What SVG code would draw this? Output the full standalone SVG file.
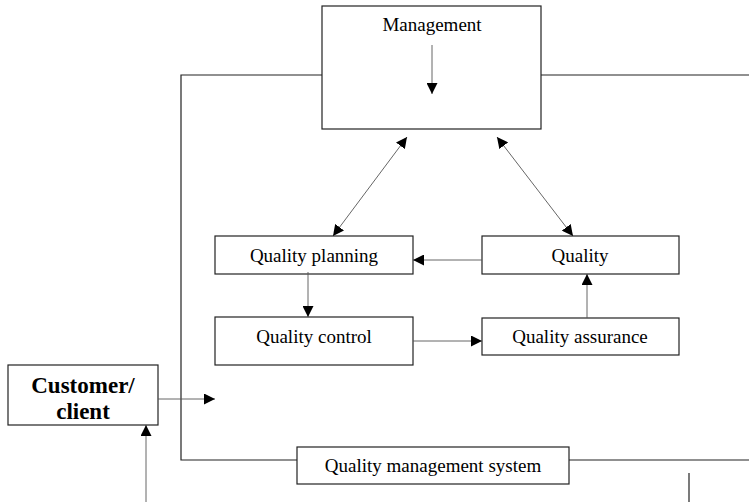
<svg xmlns="http://www.w3.org/2000/svg" width="749" height="502" viewBox="0 0 749 502">
<defs>
<marker id="ah" viewBox="0 0 10 10" refX="10" refY="5" markerWidth="11" markerHeight="11" markerUnits="userSpaceOnUse" orient="auto-start-reverse">
<path d="M0,0 L10,5 L0,10 Z" fill="#000"/>
</marker>
</defs>
<style>
.box{fill:#fff;stroke:#222;stroke-width:1.2}
.t{font-family:"Liberation Serif","Times New Roman",serif;font-size:19px;fill:#000;text-anchor:middle}
.tb{font-family:"Liberation Serif","Times New Roman",serif;font-size:23px;font-weight:bold;fill:#000;text-anchor:middle}
.frame{fill:none;stroke:#222;stroke-width:1.2}
.c{fill:none;stroke:#555;stroke-width:0.9}
</style>
<rect width="749" height="502" fill="#fff"/>
<g id="management">
<rect class="box" x="322" y="6" width="219" height="123"/>
<text class="t" x="432" y="31">Management</text>
</g>
<g id="quality-planning">
<rect class="box" x="215" y="236" width="198" height="38"/>
<text class="t" x="314" y="262">Quality planning</text>
</g>
<g id="quality">
<rect class="box" x="482" y="236" width="197" height="38"/>
<text class="t" x="580" y="262">Quality</text>
</g>
<g id="quality-control">
<rect class="box" x="215" y="317" width="198" height="48"/>
<text class="t" x="314" y="343">Quality control</text>
</g>
<g id="quality-assurance">
<rect class="box" x="482" y="318" width="197" height="37"/>
<text class="t" x="580" y="343">Quality assurance</text>
</g>
<g id="customer">
<rect class="box" x="8" y="365" width="150" height="60"/>
<text class="tb" x="83" y="393">Customer/</text>
<text class="tb" x="83" y="419">client</text>
</g>
<g id="qms">
<rect class="box" x="297" y="447" width="272" height="37"/>
<text class="t" x="433" y="472">Quality management system</text>
</g>
<g id="connectors">
<polyline class="frame" points="322,75 181,75 181,460 297,460"/>
<line class="frame" x1="541" y1="75" x2="749" y2="75"/>
<line class="frame" x1="569" y1="460" x2="749" y2="460"/>
<line class="frame" x1="689" y1="473" x2="689" y2="502"/>
<line class="c" x1="432" y1="45" x2="432" y2="94" marker-end="url(#ah)"/>
<line class="c" x1="407" y1="137" x2="333" y2="236" marker-start="url(#ah)" marker-end="url(#ah)"/>
<line class="c" x1="497" y1="137" x2="573" y2="236" marker-start="url(#ah)" marker-end="url(#ah)"/>
<line class="c" x1="482" y1="260" x2="413" y2="260" marker-end="url(#ah)"/>
<line class="c" x1="308" y1="272" x2="308" y2="317" marker-end="url(#ah)"/>
<line class="c" x1="413" y1="341" x2="482" y2="341" marker-end="url(#ah)"/>
<line class="c" x1="587" y1="318" x2="587" y2="274" marker-end="url(#ah)"/>
<line class="c" x1="158" y1="399" x2="215" y2="399" marker-end="url(#ah)"/>
<line class="c" x1="146" y1="502" x2="146" y2="425" marker-end="url(#ah)"/>
</g>
</svg>
